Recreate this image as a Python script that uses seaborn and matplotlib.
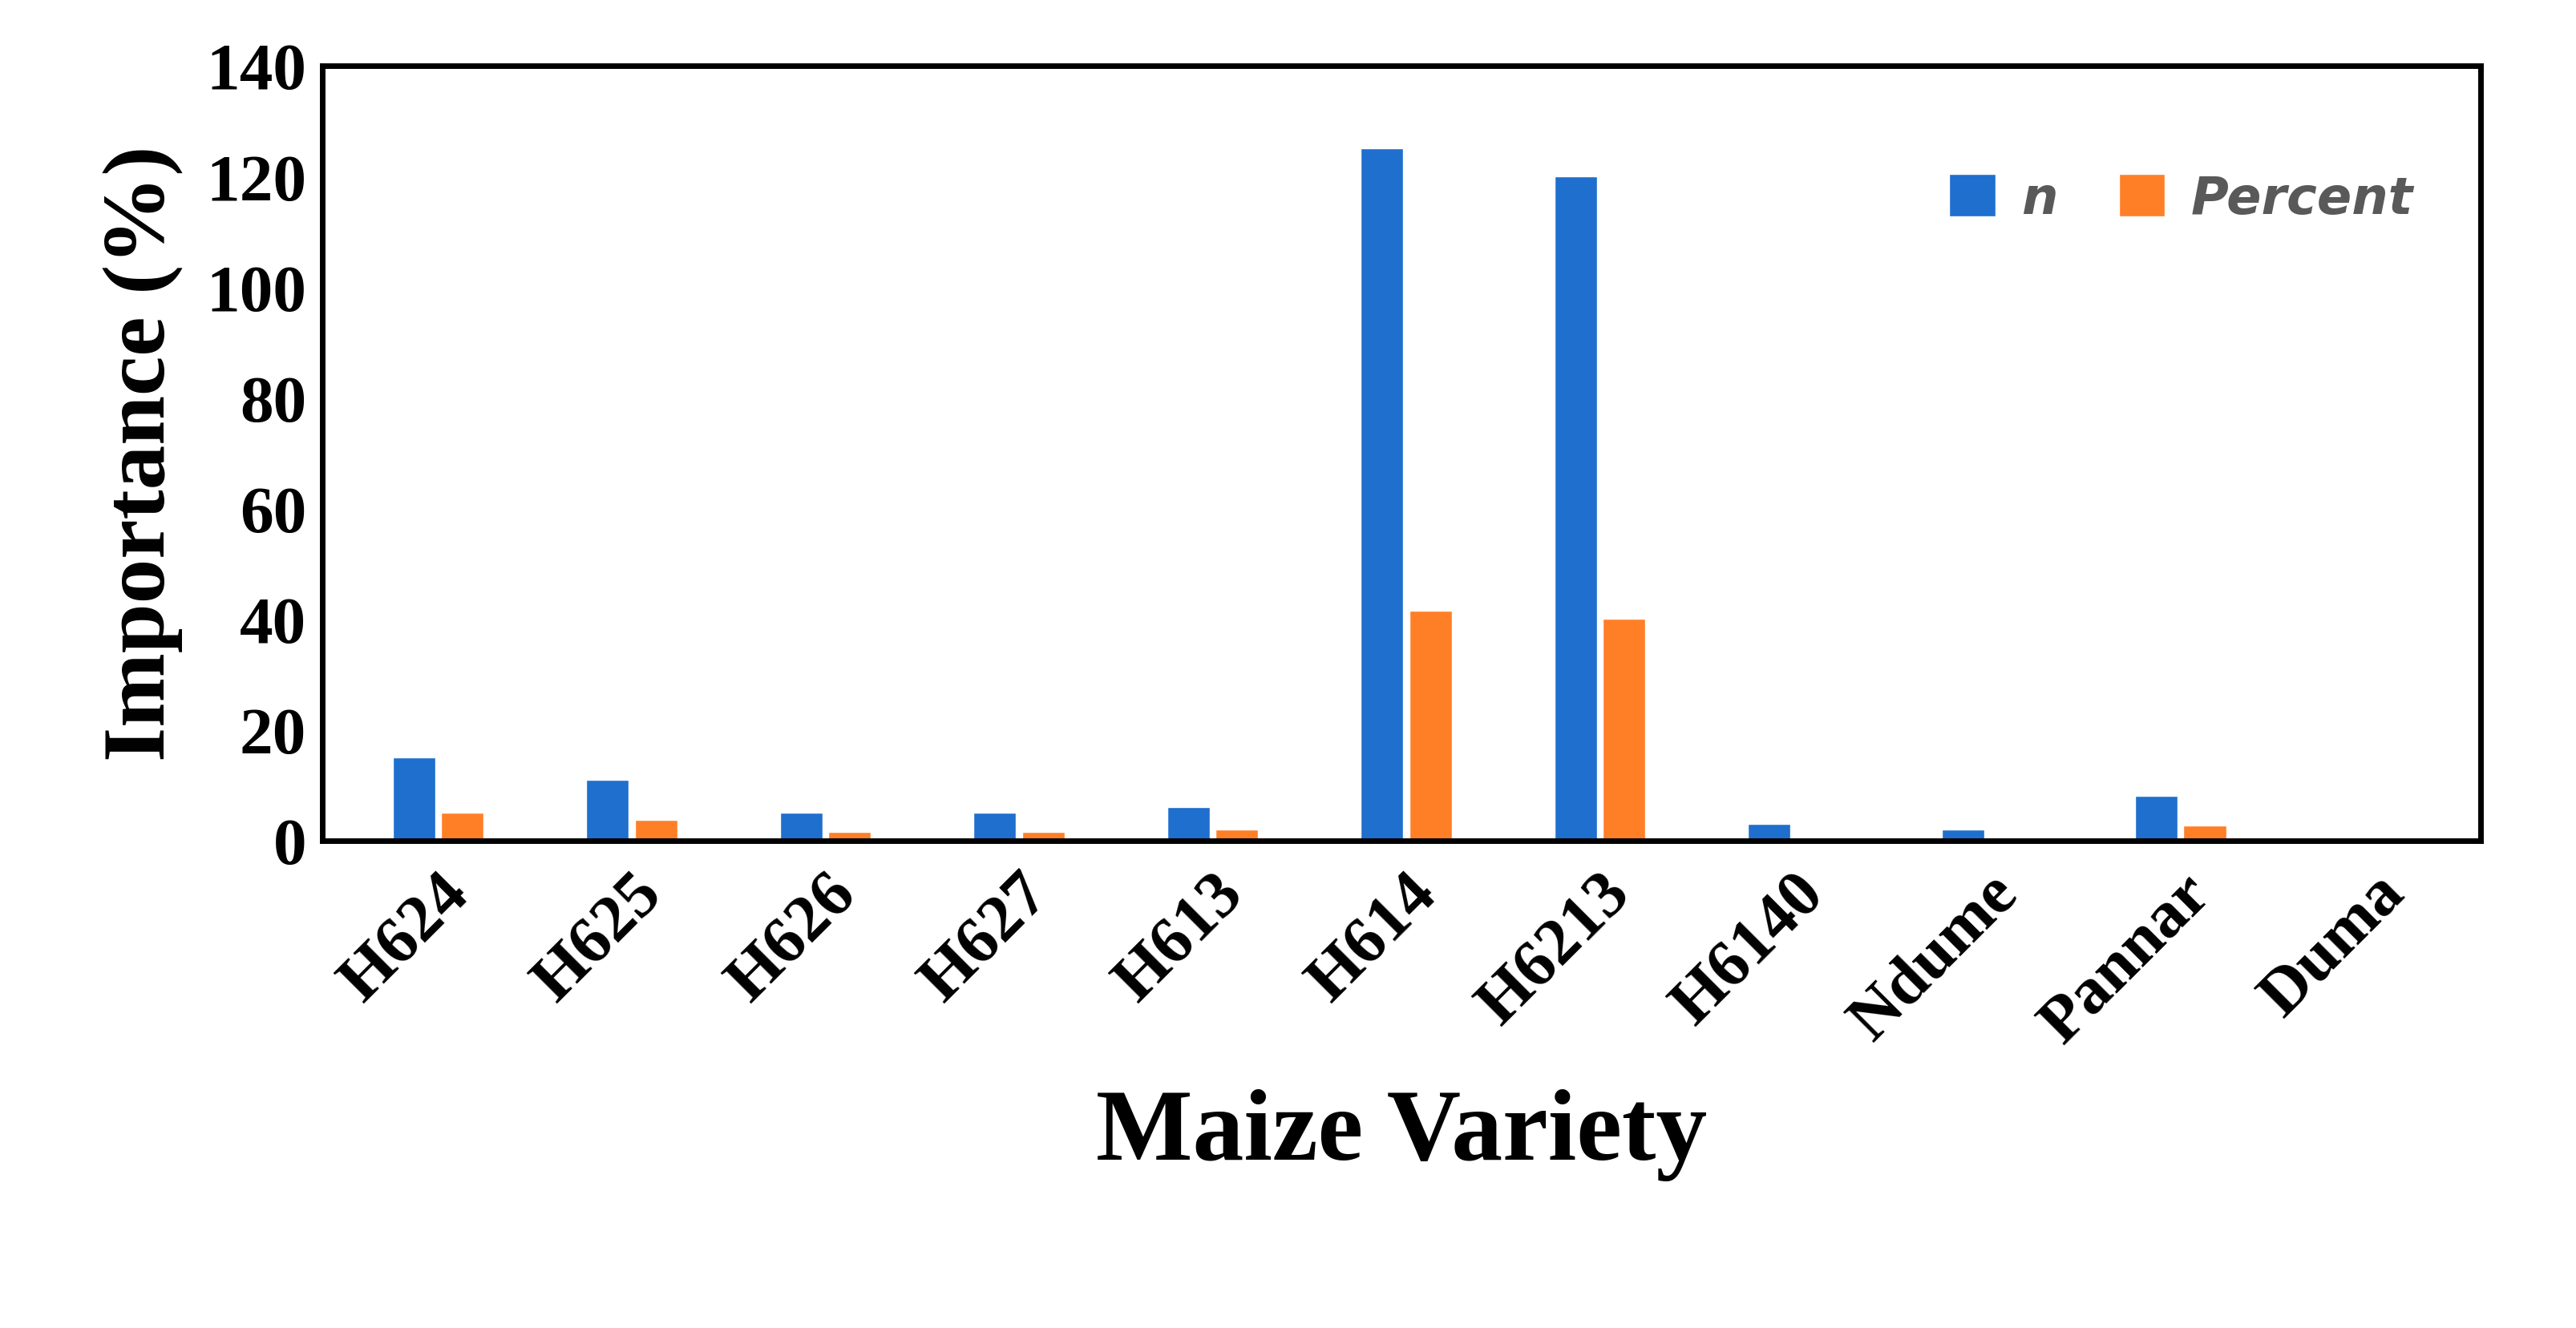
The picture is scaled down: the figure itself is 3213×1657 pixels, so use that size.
import pandas as pd
import seaborn as sns
import matplotlib.pyplot as plt

# Data
varieties = ["H624", "H625", "H626", "H627", "H613", "H614", "H6213", "H6140", "Ndume", "Pannar", "Duma"]
n_values = [15, 11, 5, 5, 6, 125, 120, 3, 2, 8, 0]
percent_values = [5, 3.7, 1.5, 1.5, 2, 41.5, 40, 0.3, 0.2, 2.7, 0]

df = pd.DataFrame({"variety": varieties * 2,
                   "value": n_values + percent_values,
                   "series": ["n"] * len(varieties) + ["Percent"] * len(varieties)})

sns.set_style("white")
plt.rcParams["font.family"] = ["Liberation Serif", "DejaVu Serif"]
plt.rcParams["text.color"] = "black"
plt.rcParams["axes.labelcolor"] = "black"
plt.rcParams["xtick.color"] = "black"
plt.rcParams["ytick.color"] = "black"

fig, ax = plt.subplots(figsize=(32.13, 16.58), dpi=100)
fig.subplots_adjust(left=0.125, right=0.963, top=0.95, bottom=0.367)

sns.barplot(data=df, x="variety", y="value", hue="series",
            palette=["#1f6fce", "#ff7f27"], saturation=1, width=0.5, gap=0.12, ax=ax)

ax.set_ylim(0, 140)
ax.set_yticks(range(0, 141, 20))
ax.set_xlim(-0.6, len(varieties) - 0.45)
ax.tick_params(axis="y", labelsize=60, length=0, pad=14)
ax.tick_params(axis="x", labelsize=60, length=0, pad=20)
for lab in ax.get_xticklabels():
    lab.set_rotation(45)
    lab.set_ha("right")
    lab.set_rotation_mode("anchor")
    lab.set_fontweight("bold")
for lab in ax.get_yticklabels():
    lab.set_fontweight("bold")

for sp in ax.spines.values():
    sp.set_visible(True)
    sp.set_color("black")
    sp.set_linewidth(5)

ax.set_xlabel("Maize Variety", fontsize=92, fontweight="bold", labelpad=30)
ax.set_ylabel("Importance (%)", fontsize=80, fontweight="bold", labelpad=20)

leg = ax.legend(loc="upper right", bbox_to_anchor=(0.99, 0.92), ncol=2, frameon=False,
                handlelength=0.9, handleheight=0.9, columnspacing=1.2, handletextpad=0.5,
                prop={"family": "DejaVu Sans", "size": 46, "style": "italic", "weight": "bold"})
for t in leg.get_texts():
    t.set_color("#595959")

fig.savefig("out.png", dpi=100)
